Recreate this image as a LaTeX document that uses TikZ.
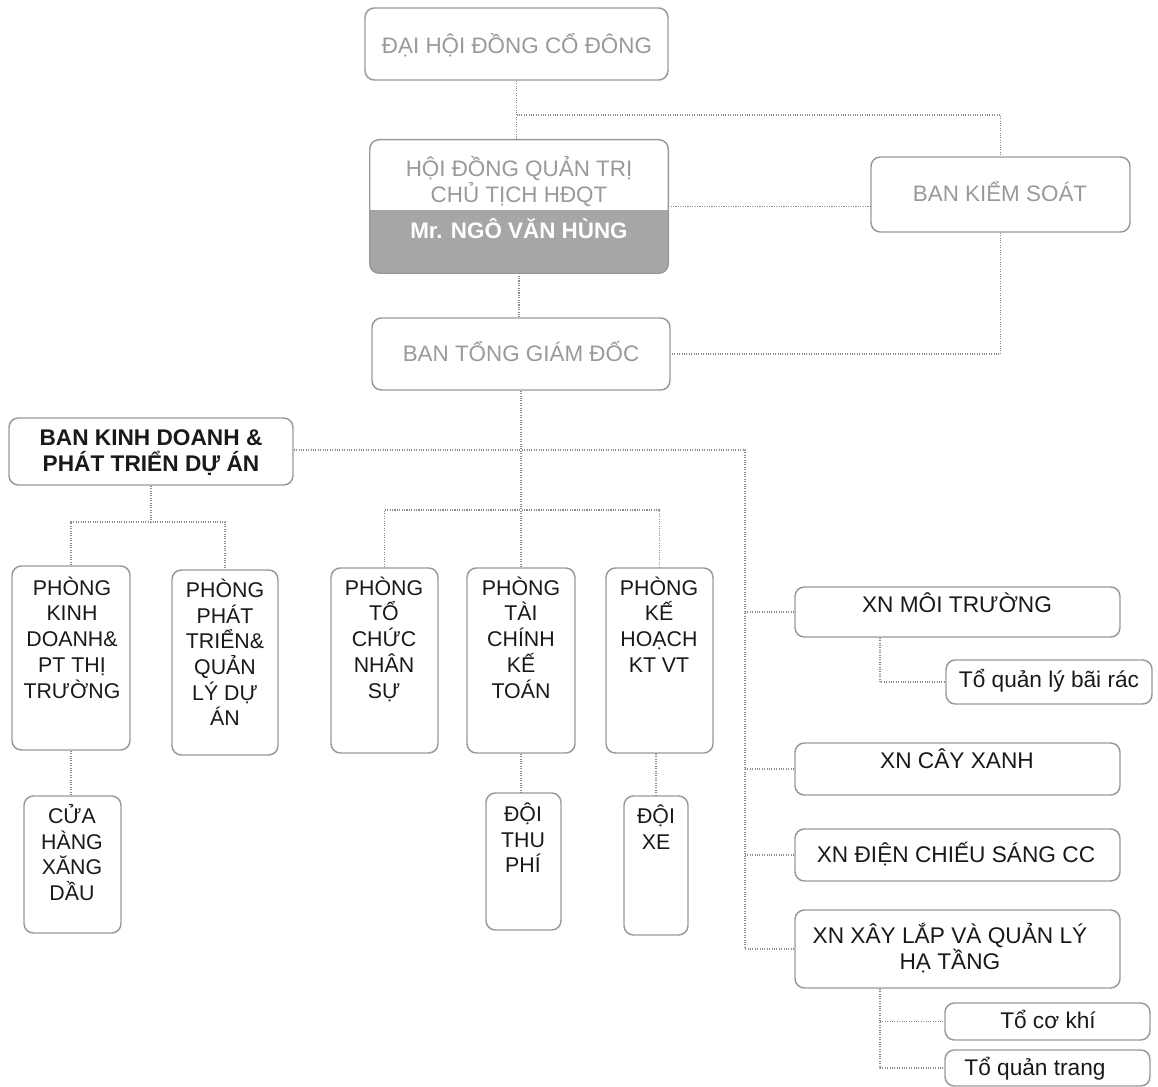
\documentclass[tikz,border=0pt]{standalone}
\usepackage{fontspec}
\setmainfont{Liberation Sans}
\usetikzlibrary{fit}
\newcommand\mainfs{\fontsize{16}{19.3}\selectfont}
\newcommand\rightfs{\fontsize{17}{19.8}\selectfont}
\newcommand\topfs{\fontsize{16.8}{19.5}\selectfont}
\newcommand\tp{\rule{0pt}{20pt}}
\tikzset{
  boxline/.style={draw=black!40, line width=1.1pt, rounded corners=7pt},
  bx/.style={boxline, inner sep=0pt, fit={#1}},
  conn/.style={draw=black!45, line width=0.8pt, densely dotted},
  tt/.style={anchor=north, yshift=20pt, inner sep=0pt, align=center, font=\mainfs, text=black!90},
  rt/.style={tt, font=\rightfs},
  gt/.style={tt, font=\topfs, text=black!40},
}
\begin{document}
\begin{tikzpicture}[x=0.75pt, y=-0.75pt]
\useasboundingbox (0,0) rectangle (1158,1087);
% ---------- boxes ----------
\node[bx={(365,8) (668,80)}] (dh) {};
\path node[inner sep=0pt, fit={(370,140) (668,273)}] (hdqt) {};
\begin{scope}
  \clip[rounded corners=7pt] (hdqt.south west) rectangle (hdqt.north east);
  \fill[black!35] (hdqt.south west) rectangle (hdqt.east |- 0,210);
\end{scope}
\draw[boxline] (hdqt.south west) rectangle (hdqt.north east);
\node[bx={(871,157) (1130,232)}] (bks) {};
\node[bx={(372,318) (670,390)}] (btgd) {};
\node[bx={(9,418) (293,485)}] (bkd) {};
\node[bx={(12,566) (130,750)}] (p1) {};
\node[bx={(172,570) (278,755)}] (p2) {};
\node[bx={(331,568) (438,753)}] (p3) {};
\node[bx={(467,568) (575,753)}] (p4) {};
\node[bx={(606,568) (713,753)}] (p5) {};
\node[bx={(24,796) (121,933)}] (ch) {};
\node[bx={(486,793) (561,930)}] (dtp) {};
\node[bx={(624,796) (688,935)}] (dx) {};
\node[bx={(795,587) (1120,637)}] (xnmt) {};
\node[bx={(946,660) (1152,704)}] (tbr) {};
\node[bx={(795,743) (1120,795)}] (xncx) {};
\node[bx={(795,829) (1120,881)}] (xndcs) {};
\node[bx={(795,910) (1120,988)}] (xnxl) {};
\node[bx={(945,1003) (1150,1040)}] (tck) {};
\node[bx={(945,1050) (1150,1086)}] (tqt) {};
% ---------- texts ----------
\node[gt] (dht) at (517,53) {\tp ĐẠI HỘI ĐỒNG CỔ ĐÔNG};
\node[gt] (hdqtt) at (519,176) {\tp HỘI ĐỒNG QUẢN TRỊ\\CHỦ TỊCH HĐQT};
\node[tt, font=\topfs\bfseries, text=white] (mrt) at (519,238) {\tp Mr. NGÔ VĂN HÙNG};
\node[gt] (bkst) at (1000,201) {\tp BAN KIỂM SOÁT};
\node[gt] (btgdt) at (521,361) {\tp BAN TỔNG GIÁM ĐỐC};
\node[tt, font=\fontsize{17}{19.5}\selectfont\bfseries] (bkdt) at (151,445) {\tp BAN KINH DOANH \&\\PHÁT TRIỂN DỰ ÁN};
\node[tt] (p1t) at (72,595) {\tp PHÒNG\\KINH\\DOANH\&\\PT THỊ\\TRƯỜNG};
\node[tt] (p2t) at (225,597) {\tp PHÒNG\\PHÁT\\TRIỂN\&\\QUẢN\\LÝ DỰ\\ÁN};
\node[tt] (p3t) at (384,595) {\tp PHÒNG\\TỔ\\CHỨC\\NHÂN\\SỰ};
\node[tt] (p4t) at (521,595) {\tp PHÒNG\\TÀI\\CHÍNH\\KẾ\\TOÁN};
\node[tt] (p5t) at (659,595) {\tp PHÒNG\\KẾ\\HOẠCH\\KT VT};
\node[tt] (cht) at (72,823) {\tp CỬA\\HÀNG\\XĂNG\\DẦU};
\node[tt] (dtpt) at (523,821) {\tp ĐỘI\\THU\\PHÍ};
\node[tt] (dxt) at (656,823) {\tp ĐỘI\\XE};
\node[rt] (xnmtt) at (957,612) {\tp XN MÔI TRƯỜNG};
\node[rt] (tbrt) at (1049,687) {\tp Tổ quản lý bãi rác};
\node[rt] (xncxt) at (957,768) {\tp XN CÂY XANH};
\node[rt] (xndcst) at (956,862) {\tp XN ĐIỆN CHIẾU SÁNG CC};
\node[rt] (xnxlt) at (950,943) {\tp XN XÂY LẮP VÀ QUẢN LÝ\\HẠ TẦNG};
\node[rt] (tckt) at (1048,1028) {\tp Tổ cơ khí};
\node[rt] (tqtt) at (1035,1075) {\tp Tổ quản trang};
% ---------- connectors ----------
\coordinate (spine) at (745,450);
\draw[conn] (dh.south) -- (dh.south |- hdqt.north);
\draw[conn] (dh.south |- 0,115) -| (bks.north);
\draw[conn] (hdqt.east) -- (hdqt.east -| bks.west);
\draw[conn] (hdqt.south) -- (hdqt.south |- btgd.north);
\draw[conn] (bks.south) |- (btgd.east);
\draw[conn] (btgd.south) -- (btgd.south |- p4.north);
\draw[conn] (bkd.east |- spine) -- (spine) -- (spine |- xnxl.west) -- (xnxl.west);
\draw[conn] (spine |- xnmt.west) -- (xnmt.west);
\draw[conn] (spine |- xncx.west) -- (xncx.west);
\draw[conn] (spine |- xndcs.west) -- (xndcs.west);
\draw[conn] (p3.north) -- (p3.north |- 0,510) -- (p5.north |- 0,510) -- (p5.north);
\draw[conn] (bkd.south) -- (bkd.south |- 0,522);
\draw[conn] (p1.north) -- (p1.north |- 0,522) -- (p2.north |- 0,522) -- (p2.north);
\draw[conn] (p1.south) -- (p1.south |- ch.north);
\draw[conn] (p4.south) -- (p4.south |- dtp.north);
\draw[conn] (p5.south -| dx.north) -- (dx.north);
\draw[conn] (880,0 |- xnmt.south) |- (tbr.west);
\draw[conn] (880,0 |- xnxl.south) |- (tqt.west);
\draw[conn] (880,0 |- tck.west) -- (tck.west);
\end{tikzpicture}
\end{document}
